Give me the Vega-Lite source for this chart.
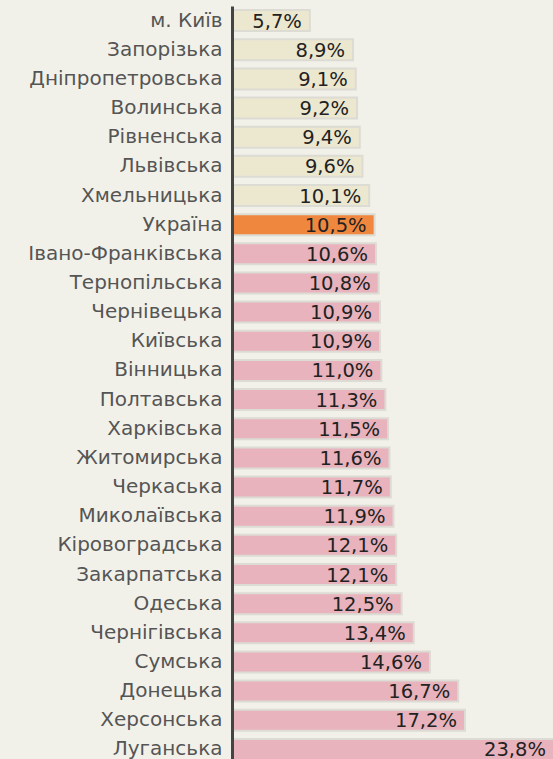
{
  "$schema": "https://vega.github.io/schema/vega-lite/v6.json",
  "autosize": "none",
  "width": 321,
  "height": 758,
  "padding": {"left": 233, "top": 6, "right": 0, "bottom": 0},
  "background": "#f2f1e9",
  "config": {"view": {"stroke": null}, "font": "DejaVu Sans"},
  "data": {"values": [
    {"region": "м. Київ", "value": 5.7, "label": "5,7%", "group": "below"},
    {"region": "Запорізька", "value": 8.9, "label": "8,9%", "group": "below"},
    {"region": "Дніпропетровська", "value": 9.1, "label": "9,1%", "group": "below"},
    {"region": "Волинська", "value": 9.2, "label": "9,2%", "group": "below"},
    {"region": "Рівненська", "value": 9.4, "label": "9,4%", "group": "below"},
    {"region": "Львівська", "value": 9.6, "label": "9,6%", "group": "below"},
    {"region": "Хмельницька", "value": 10.1, "label": "10,1%", "group": "below"},
    {"region": "Україна", "value": 10.5, "label": "10,5%", "group": "ukraine"},
    {"region": "Івано-Франківська", "value": 10.6, "label": "10,6%", "group": "above"},
    {"region": "Тернопільська", "value": 10.8, "label": "10,8%", "group": "above"},
    {"region": "Чернівецька", "value": 10.9, "label": "10,9%", "group": "above"},
    {"region": "Київська", "value": 10.9, "label": "10,9%", "group": "above"},
    {"region": "Вінницька", "value": 11.0, "label": "11,0%", "group": "above"},
    {"region": "Полтавська", "value": 11.3, "label": "11,3%", "group": "above"},
    {"region": "Харківська", "value": 11.5, "label": "11,5%", "group": "above"},
    {"region": "Житомирська", "value": 11.6, "label": "11,6%", "group": "above"},
    {"region": "Черкаська", "value": 11.7, "label": "11,7%", "group": "above"},
    {"region": "Миколаївська", "value": 11.9, "label": "11,9%", "group": "above"},
    {"region": "Кіровоградська", "value": 12.1, "label": "12,1%", "group": "above"},
    {"region": "Закарпатська", "value": 12.1, "label": "12,1%", "group": "above"},
    {"region": "Одеська", "value": 12.5, "label": "12,5%", "group": "above"},
    {"region": "Чернігівська", "value": 13.4, "label": "13,4%", "group": "above"},
    {"region": "Сумська", "value": 14.6, "label": "14,6%", "group": "above"},
    {"region": "Донецька", "value": 16.7, "label": "16,7%", "group": "above"},
    {"region": "Херсонська", "value": 17.2, "label": "17,2%", "group": "above"},
    {"region": "Луганська", "value": 23.8, "label": "23,8%", "group": "above"}
  ]},
  "encoding": {
    "y": {
      "field": "region", "type": "nominal", "sort": null,
      "scale": {"paddingInner": 0.28, "paddingOuter": 0.14},
      "axis": {
        "title": null, "ticks": false, "labelPadding": 10, "offset": 1, "zindex": 1,
        "labelFontSize": 20, "labelColor": "#555555", "labelFont": "DejaVu Sans", "labelLimit": 240,
        "domainColor": "#444444", "domainWidth": 3, "grid": false
      }
    },
    "x": {
      "field": "value", "type": "quantitative",
      "scale": {"domain": [0, 23.8], "nice": false, "zero": true},
      "axis": null
    }
  },
  "layer": [
    {
      "mark": {"type": "bar", "stroke": "#dcdbd4", "strokeWidth": 2},
      "encoding": {
        "color": {
          "field": "group", "type": "nominal",
          "scale": {"domain": ["below", "ukraine", "above"], "range": ["#ece7cf", "#ef883e", "#e8b3bc"]},
          "legend": null
        }
      }
    },
    {
      "mark": {"type": "text", "align": "right", "baseline": "middle", "dx": -8, "dy": 1, "fontSize": 19.5, "color": "#222222", "font": "DejaVu Sans"},
      "encoding": {"text": {"field": "label"}}
    }
  ]
}
